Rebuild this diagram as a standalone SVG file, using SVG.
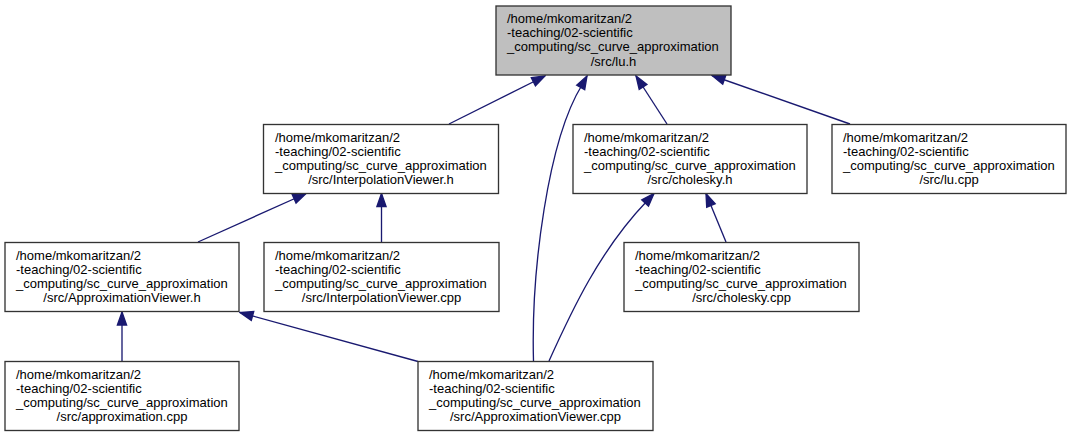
<svg xmlns="http://www.w3.org/2000/svg" width="1072" height="437" viewBox="0 0 1072 437">
<style>
.box{fill:#ffffff;stroke:#333333;stroke-width:1.33}
.cur{fill:#bfbfbf;stroke:#333333;stroke-width:1.33}
.t{font-family:"Liberation Sans",Arial,Helvetica,sans-serif;font-size:13px;fill:#000000}
.c{text-anchor:middle}
.e{fill:none;stroke:#191970;stroke-width:1.33;marker-end:url(#arr)}
</style>
<defs>
<marker id="arr" markerUnits="userSpaceOnUse" viewBox="-15 -7 16 14" refX="0" refY="0" markerWidth="16" markerHeight="14" orient="auto">
<path d="M-13,-4.6 L0,0 L-13,4.6 Z" fill="#191970" stroke="#191970" stroke-width="1.33"/>
</marker>
</defs>
<rect width="1072" height="437" fill="#ffffff"/>
<g id="connectors">
<path class="e" d="M449,124 L545,76"/>
<path class="e" d="M533.5,361 C531,270 548,140 582,85 L587,76"/>
<path class="e" d="M667,124 L636,76"/>
<path class="e" d="M850,124 L712,75.5"/>
<path class="e" d="M198,242 L306,193.5"/>
<path class="e" d="M381.5,242 L381.5,193.5"/>
<path class="e" d="M549,361 C572,310 600,250 647,201 L654,193.5"/>
<path class="e" d="M726,242 L706,193.5"/>
<path class="e" d="M122,361 L122,312"/>
<path class="e" d="M418,361.5 L240,312.5"/>
</g>
<g id="node_lu_h">
<rect class="cur" x="496" y="6" width="235" height="69"/>
<text class="t" x="507" y="23">/home/mkomaritzan/2</text>
<text class="t" x="507" y="37.2">-teaching/02-scientific</text>
<text class="t" x="507" y="51.4">_computing/sc_curve_approximation</text>
<text class="t c" x="613.5" y="65.6">/src/lu.h</text>
</g>
<g id="node_InterpolationViewer_h">
<rect class="box" x="263.5" y="124.5" width="235" height="69"/>
<text class="t" x="275" y="141.5">/home/mkomaritzan/2</text>
<text class="t" x="275" y="155.7">-teaching/02-scientific</text>
<text class="t" x="275" y="169.9">_computing/sc_curve_approximation</text>
<text class="t c" x="381" y="184.1">/src/InterpolationViewer.h</text>
</g>
<g id="node_cholesky_h">
<rect class="box" x="573" y="124.5" width="234" height="69"/>
<text class="t" x="584" y="141.5">/home/mkomaritzan/2</text>
<text class="t" x="584" y="155.7">-teaching/02-scientific</text>
<text class="t" x="584" y="169.9">_computing/sc_curve_approximation</text>
<text class="t c" x="690" y="184.1">/src/cholesky.h</text>
</g>
<g id="node_lu_cpp">
<rect class="box" x="832" y="124.5" width="234" height="69"/>
<text class="t" x="843" y="141.5">/home/mkomaritzan/2</text>
<text class="t" x="843" y="155.7">-teaching/02-scientific</text>
<text class="t" x="843" y="169.9">_computing/sc_curve_approximation</text>
<text class="t c" x="949" y="184.1">/src/lu.cpp</text>
</g>
<g id="node_ApproximationViewer_h">
<rect class="box" x="5" y="242.5" width="234" height="69"/>
<text class="t" x="16" y="259.5">/home/mkomaritzan/2</text>
<text class="t" x="16" y="273.7">-teaching/02-scientific</text>
<text class="t" x="16" y="287.9">_computing/sc_curve_approximation</text>
<text class="t c" x="122" y="302.1">/src/ApproximationViewer.h</text>
</g>
<g id="node_InterpolationViewer_cpp">
<rect class="box" x="264" y="242.5" width="235" height="69"/>
<text class="t" x="275" y="259.5">/home/mkomaritzan/2</text>
<text class="t" x="275" y="273.7">-teaching/02-scientific</text>
<text class="t" x="275" y="287.9">_computing/sc_curve_approximation</text>
<text class="t c" x="381.5" y="302.1">/src/InterpolationViewer.cpp</text>
</g>
<g id="node_cholesky_cpp">
<rect class="box" x="624" y="242.5" width="235" height="69"/>
<text class="t" x="635" y="259.5">/home/mkomaritzan/2</text>
<text class="t" x="635" y="273.7">-teaching/02-scientific</text>
<text class="t" x="635" y="287.9">_computing/sc_curve_approximation</text>
<text class="t c" x="741.5" y="302.1">/src/cholesky.cpp</text>
</g>
<g id="node_approximation_cpp">
<rect class="box" x="5" y="361.5" width="234" height="69"/>
<text class="t" x="16" y="378.5">/home/mkomaritzan/2</text>
<text class="t" x="16" y="392.7">-teaching/02-scientific</text>
<text class="t" x="16" y="406.9">_computing/sc_curve_approximation</text>
<text class="t c" x="122" y="421.1">/src/approximation.cpp</text>
</g>
<g id="node_ApproximationViewer_cpp">
<rect class="box" x="418" y="361.5" width="235" height="69"/>
<text class="t" x="429" y="378.5">/home/mkomaritzan/2</text>
<text class="t" x="429" y="392.7">-teaching/02-scientific</text>
<text class="t" x="429" y="406.9">_computing/sc_curve_approximation</text>
<text class="t c" x="535.5" y="421.1">/src/ApproximationViewer.cpp</text>
</g>
</svg>
